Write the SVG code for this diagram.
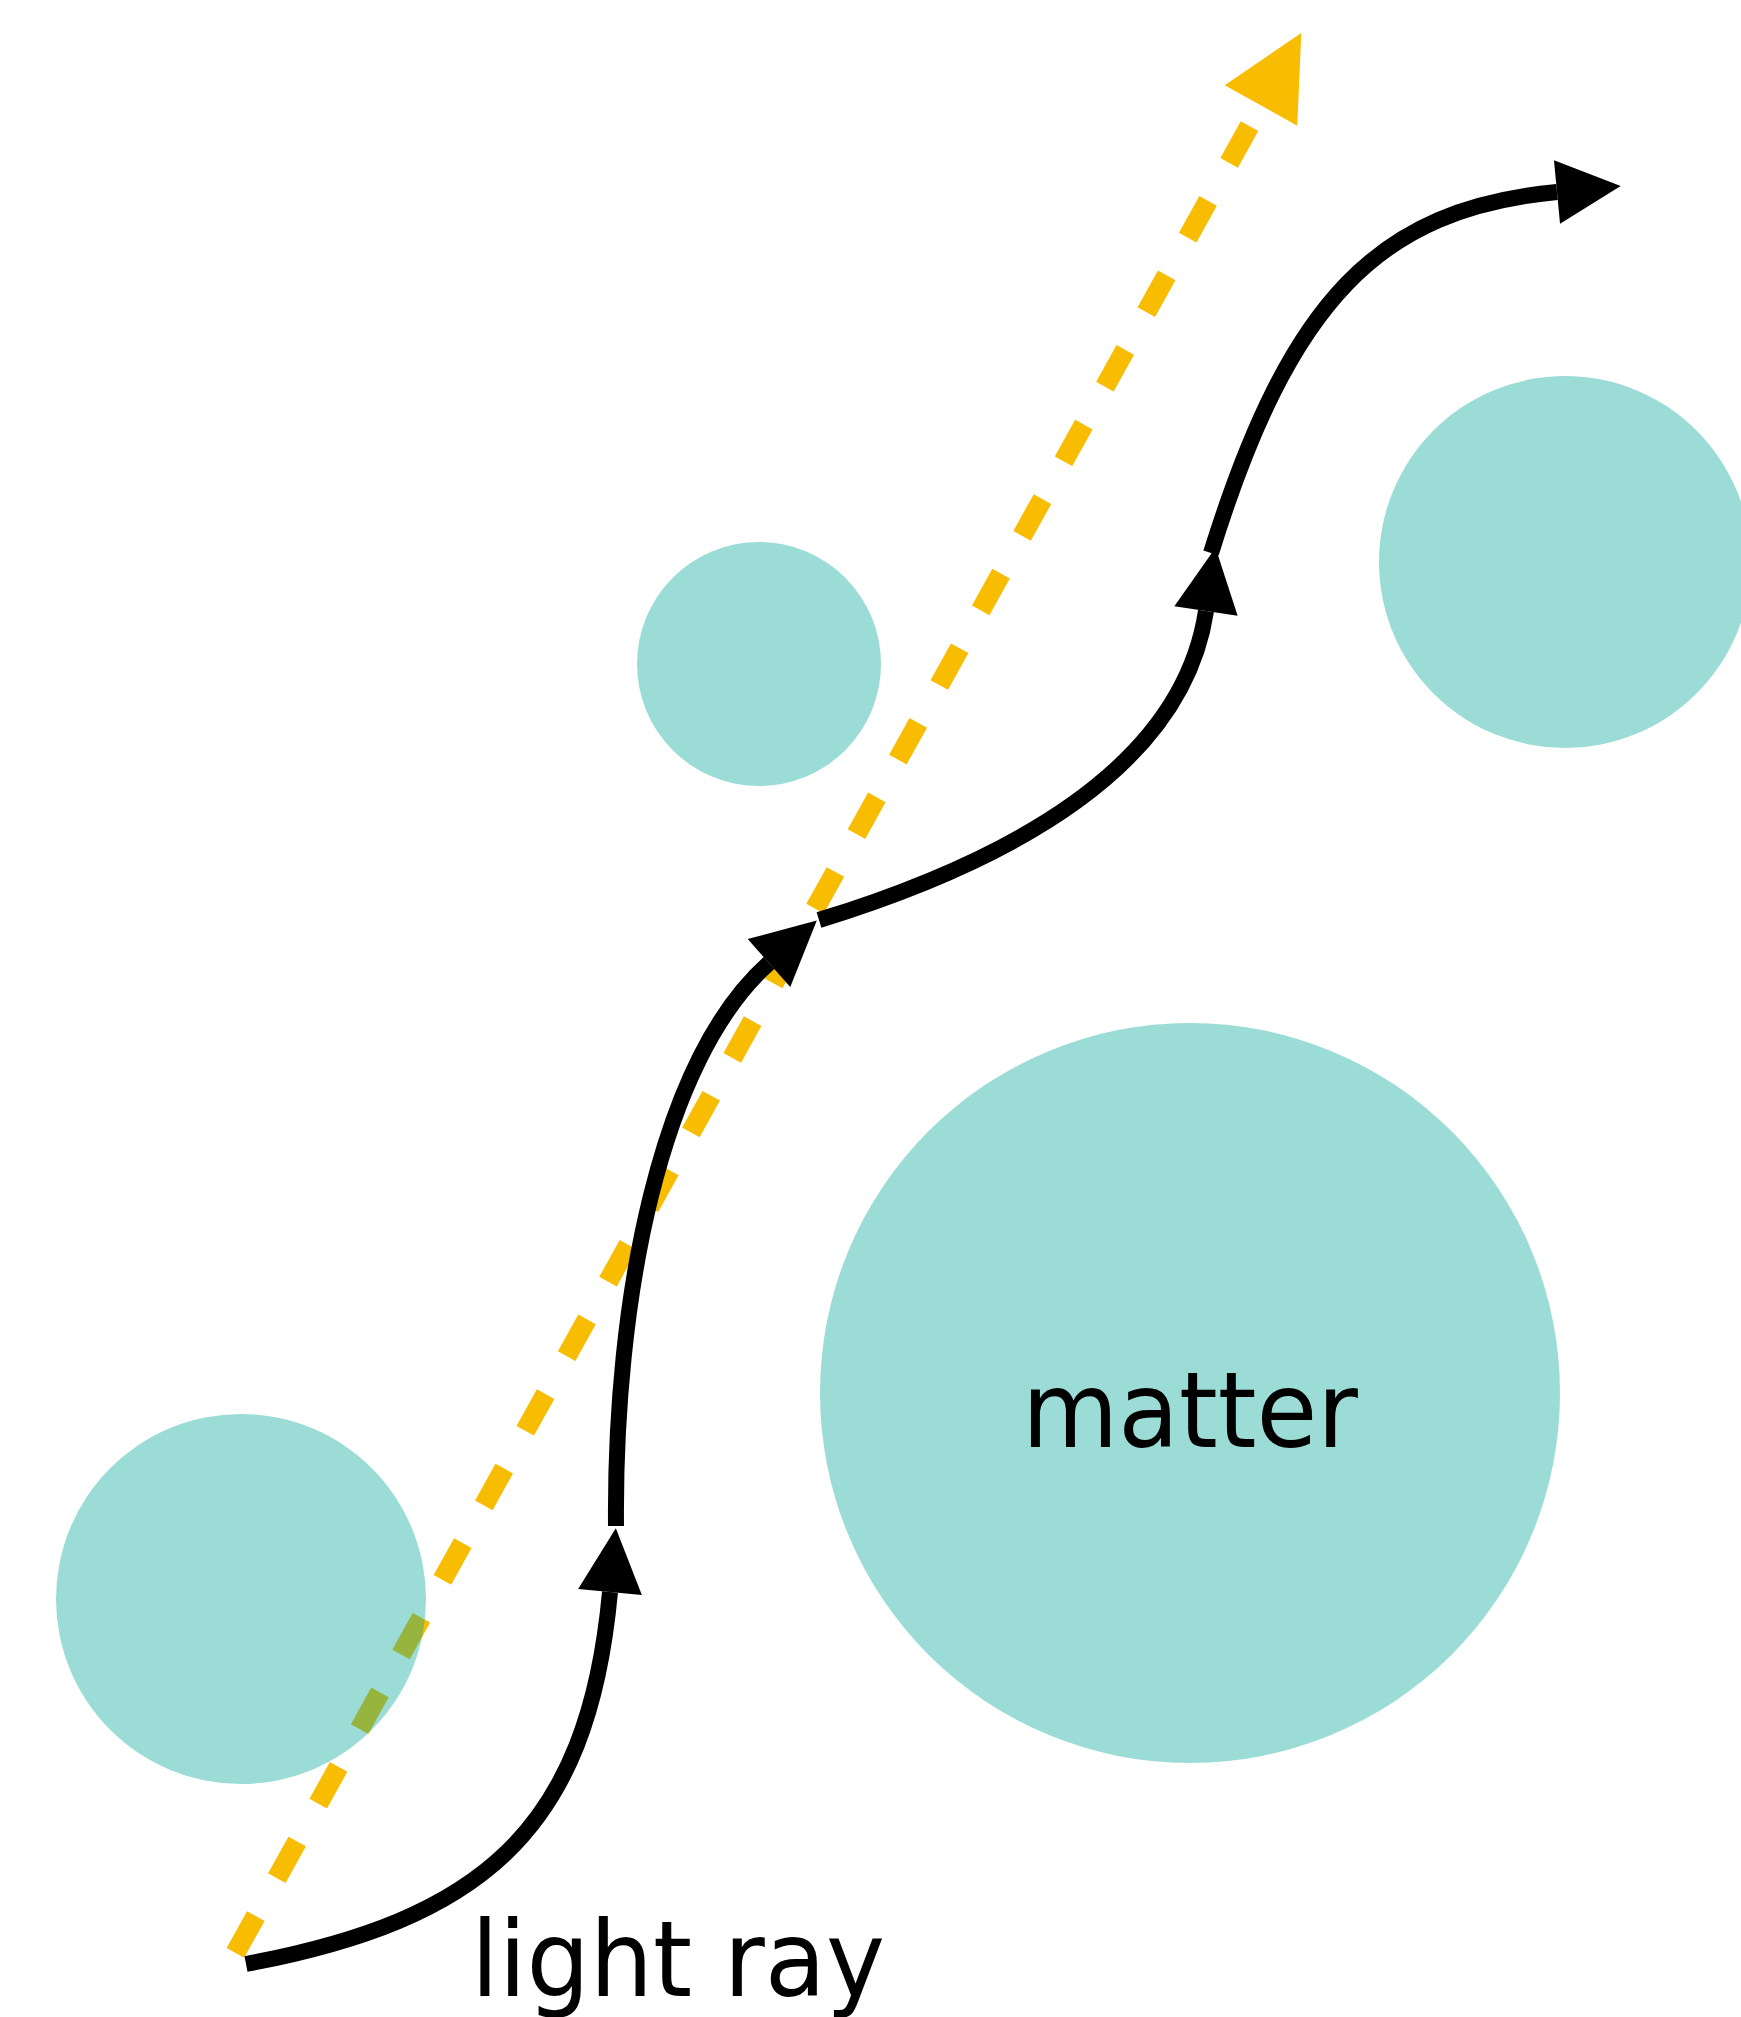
<svg xmlns="http://www.w3.org/2000/svg" width="1741" height="2017" viewBox="0 0 1741 2017">
<style>
.matter{fill:#04a79b;fill-opacity:0.4}
.ray{fill:none;stroke:#000;stroke-width:16;stroke-linecap:butt;marker-end:url(#blk)}
.straight{fill:none;stroke:#f8bc00;stroke-width:20;stroke-dasharray:42 43.3;marker-end:url(#yel)}
.lbl{font-family:"DejaVu Sans",sans-serif;font-size:106px;fill:#000}
</style>
<defs>
<marker id="blk" markerUnits="userSpaceOnUse" markerWidth="64" markerHeight="64" viewBox="0 0 64 64" refX="0" refY="32" orient="auto" overflow="visible">
<path d="M0,0 L64,32 L0,64 Z" fill="#000"/>
</marker>
<marker id="yel" markerUnits="userSpaceOnUse" markerWidth="83" markerHeight="83" viewBox="0 0 83 83" refX="0" refY="41.5" orient="auto" overflow="visible">
<path d="M0,0 L83,41.5 L0,83 Z" fill="#f8bc00"/>
</marker>
</defs>
<rect width="1741" height="2017" fill="#fff"/>
<g id="connectors-straight">
<path class="straight" d="M235.4,1952.8 L1261,105.5"/>
</g>
<g id="matter-1"><circle class="matter" cx="241" cy="1599" r="185"/></g>
<g id="matter-2"><circle class="matter" cx="759" cy="664" r="122"/></g>
<g id="matter-3"><circle class="matter" cx="1565" cy="562" r="186"/></g>
<g id="matter-4"><circle class="matter" cx="1190" cy="1393" r="370"/><text class="lbl" x="1022" y="1447" textLength="336" lengthAdjust="spacingAndGlyphs">matter</text></g>
<g id="connectors">
<path class="ray" d="M246,1964 C480,1920 588,1832 610,1592"/>
<path class="ray" d="M616,1526 C614,1300 660,1060 769,963"/>
<path class="ray" d="M819,920 Q1176,810 1206,611"/>
<path class="ray" d="M1211,553 C1290,299 1379,209 1557,192"/>
</g>
<g id="label-light-ray"><text class="lbl" x="471" y="1996" textLength="414" lengthAdjust="spacingAndGlyphs">light ray</text></g>
</svg>
